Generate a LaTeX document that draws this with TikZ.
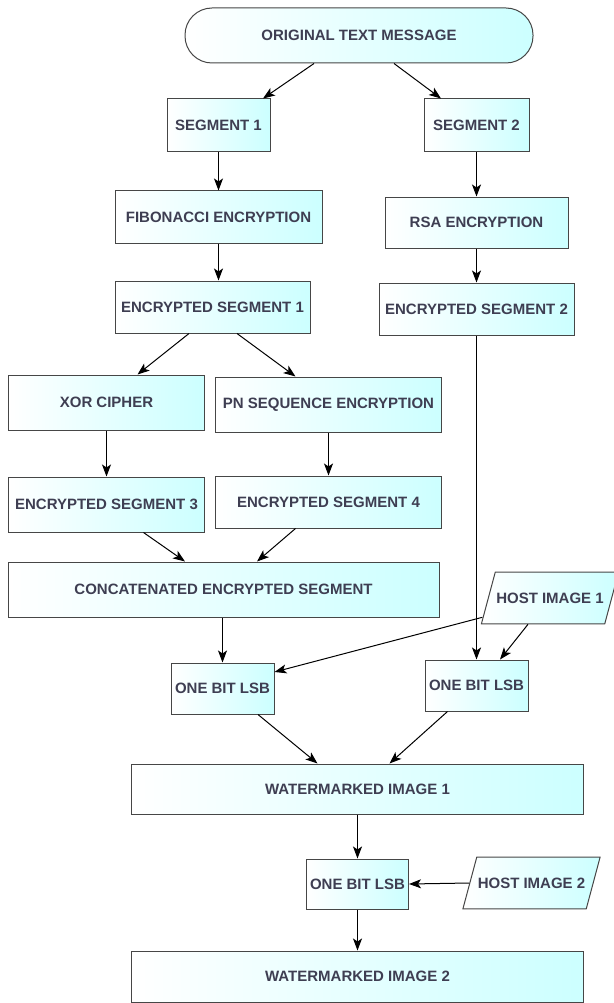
\documentclass[tikz,border=0pt]{standalone}
\usepackage{fontspec}
\setmainfont{Liberation Sans}
\usepackage{tikz}
\usetikzlibrary{arrows.meta,shapes.geometric,positioning}
\usepackage{xcolor}
\definecolor{wmcyan}{RGB}{204,255,255}
\definecolor{wmborder}{RGB}{70,70,70}
\definecolor{wmtext}{RGB}{62,62,82}
\tikzstyle{process} = [rectangle, inner sep=0pt, text centered, draw=wmborder, line width=1pt, left color=white, right color=wmcyan, text=wmtext, font=\fontsize{15}{18}\selectfont\bfseries]
\tikzstyle{hostimg} = [process, trapezium, trapezium left angle=75, trapezium right angle=105, inner xsep=1pt, inner ysep=20.5pt]
\tikzstyle{arrow} = [line width=1pt, -{Stealth[length=12pt,width=9pt,inset=3pt]}, color=black]

\begin{document}
\begin{tikzpicture}[x=1pt,y=-1pt]
\useasboundingbox (0,0) rectangle (613,1003);
% Message and split
\node (orig) [process, rounded corners=27pt, minimum width=348pt, minimum height=55pt] at (359,35.5) {ORIGINAL TEXT MESSAGE};
\node (seg1) [process, minimum width=103pt, minimum height=53pt] at (218.5,125.5) {SEGMENT 1};
\node (seg2) [process, minimum width=105pt, minimum height=53pt] at (476.5,125.5) {SEGMENT 2};
\node (fib) [process, minimum width=207pt, minimum height=52pt] at (218.5,217) {FIBONACCI ENCRYPTION};
\node (rsa) [process, minimum width=183pt, minimum height=51pt] at (476.5,222.5) {RSA ENCRYPTION};
\node (enc1) [process, minimum width=195pt, minimum height=52pt] at (212.5,307) {ENCRYPTED SEGMENT 1};
\node (enc2) [process, minimum width=195pt, minimum height=52pt] at (476.5,309) {ENCRYPTED SEGMENT 2};
% Second stage
\node (xor) [process, minimum width=196pt, minimum height=55pt] at (106.5,402.5) {XOR CIPHER};
\node (pn) [process, minimum width=226pt, minimum height=55pt] at (328.5,404.5) {PN SEQUENCE ENCRYPTION};
\node (enc3) [process, minimum width=196pt, minimum height=55pt] at (106.5,504.5) {ENCRYPTED SEGMENT 3};
\node (enc4) [process, minimum width=226pt, minimum height=52pt] at (328.5,502) {ENCRYPTED SEGMENT 4};
\node (concat) [process, minimum width=431pt, minimum height=55pt] at (223.5,589.5) {CONCATENATED ENCRYPTED SEGMENT};
% Embedding
\node (host1) [hostimg] at (550,598) {HOST IMAGE 1};
\node (lsb1) [process, minimum width=103pt, minimum height=51pt] at (222.5,688.5) {ONE BIT LSB};
\node (lsb2) [process, minimum width=103pt, minimum height=51pt] at (476.5,685.5) {ONE BIT LSB};
\node (wm1) [process, minimum width=452pt, minimum height=50pt] at (357.5,789) {WATERMARKED IMAGE 1};
\node (lsb3) [process, minimum width=102pt, minimum height=50pt] at (357.5,884) {ONE BIT LSB};
\node (host2) [hostimg] at (531.5,883) {HOST IMAGE 2};
\node (wm2) [process, minimum width=452pt, minimum height=51pt] at (357.5,976.5) {WATERMARKED IMAGE 2};

% Arrows
\draw[arrow] ([xshift=-45pt]orig.south) -- ([xshift=44.5pt]seg1.north);
\draw[arrow] ([xshift=35pt]orig.south) -- ([xshift=-35.5pt]seg2.north);
\draw[arrow] (seg1.south) -- (fib.north);
\draw[arrow] (seg2.south) -- (rsa.north);
\draw[arrow] (fib.south) -- (fib.south |- enc1.north);
\draw[arrow] (rsa.south) -- (enc2.north);
\draw[arrow] ([xshift=-23.5pt]enc1.south) -- ([xshift=31pt]xor.north);
\draw[arrow] ([xshift=24.5pt]enc1.south) -- ([xshift=-33pt]pn.north);
\draw[arrow] (xor.south) -- (enc3.north);
\draw[arrow] (pn.south) -- (enc4.north);
\draw[arrow] ([xshift=37pt]enc3.south) -- ([xshift=-38.5pt]concat.north);
\draw[arrow] ([xshift=-33pt]enc4.south) -- ([xshift=33.5pt]concat.north);
\draw[arrow] (lsb1.north |- concat.south) -- (lsb1.north);
\draw[arrow] (enc2.south) -- (lsb2.north);
\draw[arrow] ([xshift=1.5pt,yshift=7pt]host1.bottom left corner) -- ([yshift=16.5pt]lsb1.east);
\draw[arrow] ([xshift=-22pt]host1.south) -- ([xshift=23.5pt]lsb2.north);
\draw[arrow] ([xshift=35.5pt]lsb1.south) -- ([xshift=-40pt]wm1.north);
\draw[arrow] ([xshift=-29pt]lsb2.south) -- ([xshift=32pt]wm1.north);
\draw[arrow] (wm1.south) -- (lsb3.north);
\draw[arrow] (host2.west) -- (lsb3.east);
\draw[arrow] (lsb3.south) -- (wm2.north);
\end{tikzpicture}
\end{document}
